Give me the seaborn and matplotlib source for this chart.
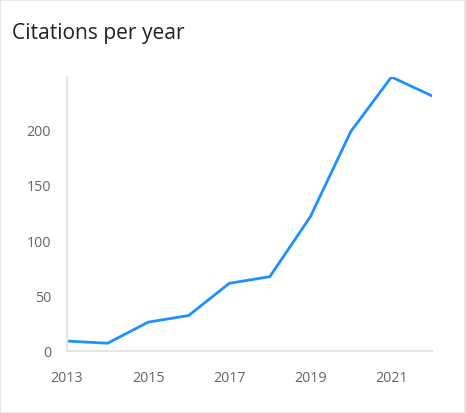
import matplotlib
matplotlib.use("Agg")
import matplotlib.pyplot as plt
import seaborn as sns
import pandas as pd
from matplotlib.patches import Rectangle

years = [2013, 2014, 2015, 2016, 2017, 2018, 2019, 2020, 2021, 2022]
citations = [9, 7, 26, 32, 61, 67, 121, 198, 247, 230]
xticks = [2013, 2015, 2017, 2019, 2021]
yticks = [0, 50, 100, 150, 200]
title = "Citations per year"

sns.set_style("white")
plt.rcParams['font.family'] = ['Open Sans', 'DejaVu Sans']

df = pd.DataFrame({"year": years, "citations": citations})

fig = plt.figure(figsize=(4.66, 4.14), dpi=100)
ax = fig.add_axes([67/466, 1-352/414, (432-67)/466, (352-78)/414])
sns.lineplot(data=df, x="year", y="citations", ax=ax, color="#1e90ff", linewidth=2.0)

ax.set_xlim(2013, 2022)
ax.set_ylim(0, 247)
ax.set_xticks(xticks)
ax.set_xticklabels([str(t) for t in xticks])
ax.set_yticks(yticks)
ax.set_yticklabels([str(t) for t in yticks])
ax.set_xlabel("")
ax.set_ylabel("")
for s in ["top", "right"]:
    ax.spines[s].set_visible(False)
for s in ["left", "bottom"]:
    ax.spines[s].set_color("#e6e6e6")
    ax.spines[s].set_linewidth(1.5)
ax.tick_params(axis="both", direction="inout", length=11, width=1.2, color="#e6e6e6",
               labelcolor="#666666", labelsize=10.3)
ax.tick_params(axis="x", pad=8)
ax.tick_params(axis="y", pad=6)
ax.grid(False)

fig.text(12/466, 1-33/414, title, fontsize=15.1, color="#222222", va="center", ha="left")
fig.patches.append(Rectangle((0.001, 0.001), 0.997, 0.997, transform=fig.transFigure,
                             fill=False, edgecolor="#e3e3e3", linewidth=1.2))

fig.savefig("out.png", dpi=100)
